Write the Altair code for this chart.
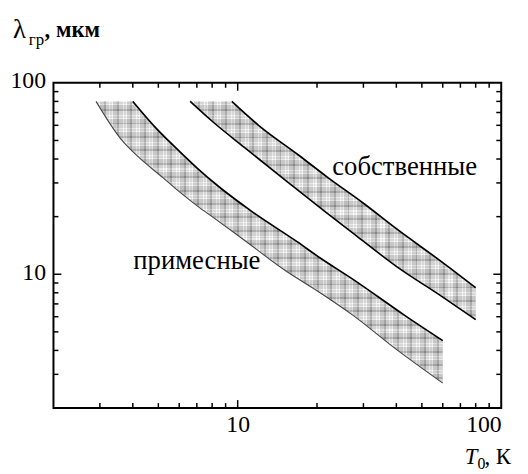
import altair as alt
import pandas as pd

# ---- data (log-log) ----
# impurity band ("примесные")
imp_lower_x = [2.9, 3.6, 4.2, 5.2, 6.0, 7.1, 8.0, 10, 15.4, 20, 27.4, 40, 60]
imp_lower_y = [80, 51, 41, 32, 27, 22.5, 20, 16, 10.3, 8.2, 6.1, 4.05, 2.7]
imp_upper_x = [4.0, 4.9, 6.0, 7.0, 8.4, 11.2, 16.8, 20.5, 27.4, 43, 60]
imp_upper_y = [80, 58, 44, 36, 29, 21.5, 14.8, 12.2, 9.4, 6.1, 4.5]

# intrinsic band ("собственные")
own_lower_x = [6.6, 8.0, 10.6, 15.4, 21.7, 28, 40, 60, 80]
own_lower_y = [80, 63, 46, 30.5, 21, 16, 11, 7.6, 5.8]
own_upper_x = [9.5, 12, 17, 22, 30, 40, 60, 80]
own_upper_y = [80, 60, 42, 32, 23.5, 17.3, 11.5, 8.5]

label_text = ["собственные", "примесные"]
label_x = [43, 7.0]
label_y = [36.5, 11.7]

axis_labels = [10, 100]
major_ticks = [10]
minor_ticks = [3, 4, 5, 6, 7, 8, 9, 20, 30, 40, 50, 60, 70, 80, 90]

W, H = 453, 329
FONT = "Liberation Serif, Times New Roman, Times, DejaVu Serif, serif"

xscale = alt.Scale(type="log", domain=[2, 100], nice=False)
yscale = alt.Scale(type="log", domain=[2, 100], nice=False)
xaxis = alt.Axis(values=axis_labels, format="d", ticks=False, domain=False, grid=False,
                 labelFont=FONT, labelFontSize=24, labelColor="black", labelPadding=5,
                 title=None)
yaxis = alt.Axis(values=axis_labels, format="d", ticks=False, domain=False, grid=False,
                 labelFont=FONT, labelFontSize=24, labelColor="black", labelPadding=8,
                 labelOffset=-2, title=None)


def X(f):
    return alt.X(f, type="quantitative", scale=xscale, axis=xaxis)


def Y(f):
    return alt.Y(f, type="quantitative", scale=yscale, axis=yaxis)


def stripe_stops(n):
    seg = [(0.00, "#ffffff"), (0.08, "#dcdcdc"), (0.22, "#ffffff"),
           (0.30, "#bdbdbd"), (0.58, "#868686"), (0.72, "#d2d2d2")]
    stops = []
    for k in range(n):
        for j, (o, c) in enumerate(seg):
            nxt = seg[j + 1][0] if j + 1 < len(seg) else 1.0
            stops.append(alt.GradientStop(offset=round((k + o) / n, 5), color=c))
            stops.append(alt.GradientStop(offset=round(min((k + nxt) / n, 1.0), 5), color=c))
    return stops


def polygon(lx, ly, ux, uy):
    pts = list(zip(lx, ly)) + list(zip(ux[::-1], uy[::-1]))
    return pd.DataFrame({"x": [p[0] for p in pts], "y": [p[1] for p in pts],
                         "i": list(range(len(pts)))})


def curve(xs, ys):
    return pd.DataFrame({"x": xs, "y": ys, "i": list(range(len(xs)))})


layers = []
bands = [
    (imp_lower_x, imp_lower_y, imp_upper_x, imp_upper_y, 26, 21, 1.1, "#444444"),
    (own_lower_x, own_lower_y, own_upper_x, own_upper_y, 21, 16, 1.6, "black"),
]
for lx, ly, ux, uy, nx, ny, lw, lc in bands:
    poly = polygon(lx, ly, ux, uy)
    layers.append(
        alt.Chart(poly).mark_line(
            fill=alt.Gradient(gradient="linear", x1=0, y1=0, x2=1, y2=0, stops=stripe_stops(nx)),
            strokeOpacity=0,
        ).encode(x=X("x"), y=Y("y"), order=alt.Order("i:Q"))
    )
    layers.append(
        alt.Chart(poly).mark_line(
            fill=alt.Gradient(gradient="linear", x1=0, y1=0, x2=0, y2=1, stops=stripe_stops(ny)),
            fillOpacity=0.5,
            strokeOpacity=0,
        ).encode(x=X("x"), y=Y("y"), order=alt.Order("i:Q"))
    )
    layers.append(
        alt.Chart(curve(lx, ly)).mark_line(color=lc, strokeWidth=lw, interpolate="monotone")
        .encode(x=X("x"), y=Y("y"), order=alt.Order("i:Q"))
    )
    layers.append(
        alt.Chart(curve(ux, uy)).mark_line(color="black", strokeWidth=1.7, interpolate="monotone")
        .encode(x=X("x"), y=Y("y"), order=alt.Order("i:Q"))
    )

# band labels
lab = pd.DataFrame({"t": label_text, "x": label_x, "y": label_y})
layers.append(
    alt.Chart(lab).mark_text(font=FONT, fontSize=27, color="black", align="center", baseline="middle")
    .encode(x=X("x"), y=Y("y"), text="t:N")
)

# inward ticks on all four sides
for vals, ln in [(major_ticks, 8), (minor_ticks, 5)]:
    tdf = pd.DataFrame({"v": vals})
    layers.append(alt.Chart(tdf).mark_rule(color="black", strokeWidth=1.5)
                  .encode(x=X("v"), y=alt.value(H), y2=alt.value(H - ln)))
    layers.append(alt.Chart(tdf).mark_rule(color="black", strokeWidth=1.5)
                  .encode(x=X("v"), y=alt.value(0), y2=alt.value(ln)))
    layers.append(alt.Chart(tdf).mark_rule(color="black", strokeWidth=1.5)
                  .encode(y=Y("v"), x=alt.value(0), x2=alt.value(ln)))
    layers.append(alt.Chart(tdf).mark_rule(color="black", strokeWidth=1.5)
                  .encode(y=Y("v"), x=alt.value(W), x2=alt.value(W - ln)))

# axis titles (with subscripts)
title_parts = [
    ("λ", -41, -45, 27, "normal", "normal"),
    ("гр", -25, -38, 17, "normal", "normal"),
    (", мкм", -9, -46, 23, "bold", "normal"),
    ("T", 416, 386, 23, "normal", "italic"),
    ("0", 429, 391, 16, "normal", "normal"),
    (", К", 436, 386, 23, "normal", "normal"),
]
for txt, px, py, fs, fw, fst in title_parts:
    layers.append(
        alt.Chart(pd.DataFrame({"t": [txt]})).mark_text(
            font=FONT, fontSize=fs, fontWeight=fw, fontStyle=fst, color="black",
            align="left", baseline="alphabetic",
        ).encode(x=alt.value(px), y=alt.value(py), text="t:N")
    )

chart = alt.layer(*layers).properties(
    width=W, height=H,
    autosize=alt.AutoSizeParams(type="none"),
    padding={"left": 46, "top": 73, "right": 19, "bottom": 64},
).configure_view(stroke="black", strokeWidth=2)

chart.save("out.html", embed_options={"renderer": "svg", "actions": False})
